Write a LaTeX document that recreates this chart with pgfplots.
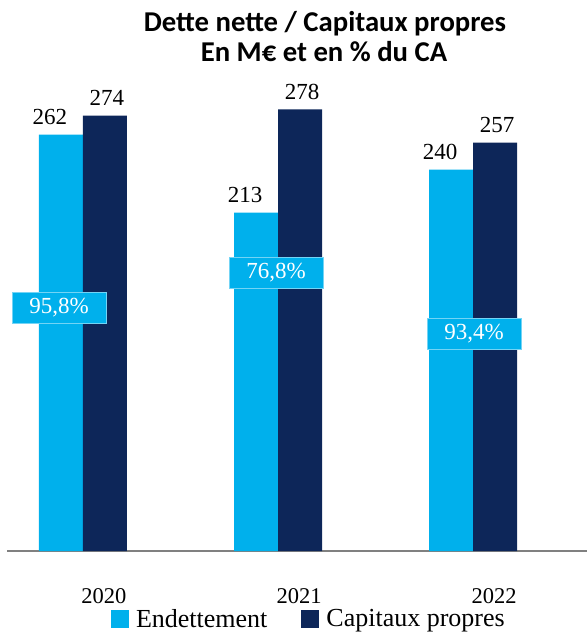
\documentclass[border=0pt]{standalone}
\usepackage{fontspec}
\setmainfont{Liberation Serif}
\newfontfamily\titlefont{Carlito}
\usepackage{pgfplots}
\pgfplotsset{compat=1.18}
\definecolor{lightb}{RGB}{0,176,236}
\definecolor{darkb}{RGB}{13,38,89}
\definecolor{axisgray}{RGB}{128,128,128}
\begin{document}
\begin{tikzpicture}
\useasboundingbox (0,0) rectangle (587pt,634pt);
\begin{axis}[
  at={(7pt,83pt)}, anchor=south west,
  width=580pt, height=476.7pt, scale only axis,
  xmin=-0.3897, xmax=2.5846, ymin=0, ymax=300,
  axis y line=none, axis x line=bottom,
  x axis line style={-, draw=axisgray, line width=1.5pt},
  xtick={0,1,2}, xticklabels={2020,2021,2022},
  major tick length=0pt,
  xticklabel style={font=\fontsize{22.5}{22.5}\selectfont, anchor=base, yshift=-52pt, xshift=21pt},
  /pgf/number format/assume math mode=true,
  clip=false,
  legend columns=2,
  legend style={at={(0.179,-0.1426)}, anchor=west, draw=none, fill=none, inner sep=0pt,
    font=\fontsize{26}{30}\selectfont,
    /tikz/every odd column/.append style={column sep=5pt},
    /tikz/every even column/.append style={column sep=32pt}},
  legend cell align=left,
]
\addplot[ybar, bar width=44pt, bar shift=-22pt, fill=lightb, draw=none,
  nodes near coords,
  nodes near coords style={font=\fontsize{23}{23}\selectfont, text=black, anchor=base, yshift=10pt, xshift=-33pt},
  legend image code/.code={\fill[lightb] (0pt,-9pt) rectangle (18pt,9pt);}]
  coordinates {(0,262) (1,213) (2,240)};
\addlegendentry{Endettement}
\addplot[ybar, bar width=44pt, bar shift=22pt, fill=darkb, draw=none,
  nodes near coords,
  nodes near coords style={font=\fontsize{23}{23}\selectfont, text=black, anchor=base, yshift=10pt, xshift=24pt},
  legend image code/.code={\fill[darkb] (0pt,-9pt) rectangle (18pt,9pt);}]
  coordinates {(0,274) (1,278) (2,257)};
\addlegendentry{Capitaux propres}
\tikzset{pbox/.style={fill=lightb, draw=lightb!55!white, line width=0.6pt, text=white, minimum width=94pt, minimum height=31pt, inner sep=0pt, font=\fontsize{23}{23}\selectfont}}
\node[pbox] at (axis cs:-0.123,153.2) {95,8\%};
\node[pbox] at (axis cs:0.990,175.3) {76,8\%};
\node[pbox] at (axis cs:2.005,136.6) {93,4\%};
\end{axis}
\node[anchor=base, font=\titlefont\bfseries\fontsize{28.7}{30}\selectfont] at (325pt,602pt) {Dette nette / Capitaux propres};
\node[anchor=base, font=\titlefont\bfseries\fontsize{28.7}{30}\selectfont] at (324pt,572pt) {En M€ et en \% du CA};
\end{tikzpicture}
\end{document}
